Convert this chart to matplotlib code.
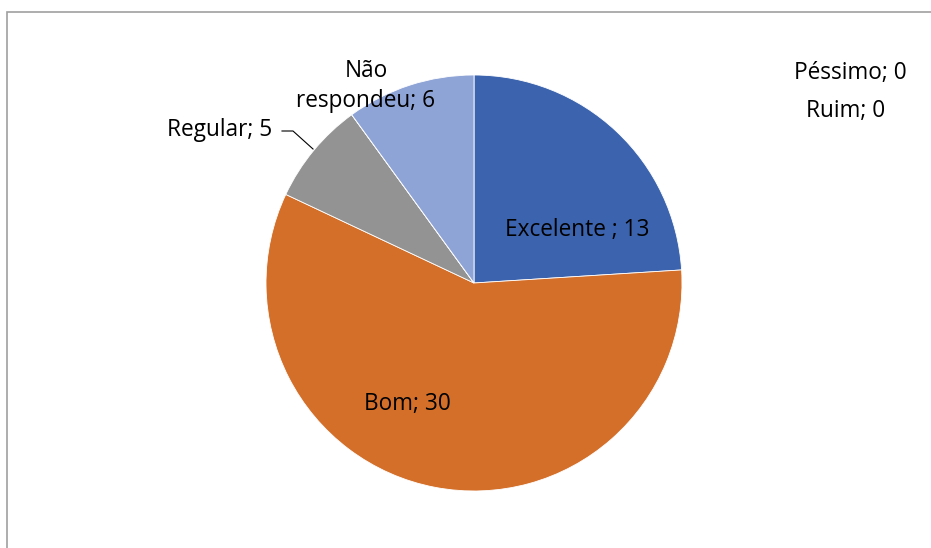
import matplotlib.pyplot as plt
import matplotlib.patches as mpatches

plt.rcParams['font.family'] = ['Open Sans', 'DejaVu Sans']

categorias = ["Excelente ", "Bom", "Regular", "Ruim", "Péssimo", "Não respondeu"]
# valores mostrados nos rótulos
valores = [13, 30, 5, 0, 0, 6]
# percentuais usados no tamanho das fatias (lidos dos ângulos)
percentuais = [24, 58, 8, 0, 0, 10]
cores = ["#3C64AE", "#D46F2A", "#939393", "#F2B800", "#4F8ACB", "#8FA4D6"]

W, H = 931, 548
fig = plt.figure(figsize=(W / 100, H / 100), dpi=100)
ax = fig.add_axes([0, 0, 1, 1])

centro = (474, H - 283)
raio = 208
ax.pie(percentuais, colors=cores, startangle=90, counterclock=False,
       center=centro, radius=raio, frame=True,
       wedgeprops=dict(edgecolor="white", linewidth=0.6))
ax.set_xlim(0, W)
ax.set_ylim(0, H)
ax.set_aspect("equal")
ax.axis("off")

# borda do gráfico (cortada à direita e embaixo)
borda = mpatches.Rectangle((7, -20), W + 20, H - 12 + 20, fill=False,
                           edgecolor="#A0A0A0", linewidth=1.2)
ax.add_patch(borda)

fs = 16.3
rot = [f"{c}; {v}" for c, v in zip(categorias, valores)]
ax.text(577, H - 230, rot[0], ha="center", va="center", fontsize=fs)
ax.text(407, H - 404, rot[1], ha="center", va="center", fontsize=fs)
ax.text(220, H - 130, rot[2], ha="center", va="center", fontsize=fs)
ax.text(846, H - 111, rot[3], ha="center", va="center", fontsize=fs)
ax.text(850, H - 73, rot[4], ha="center", va="center", fontsize=fs)
ax.text(366, H - 86, "Não\nrespondeu; 6", ha="center", va="center",
        fontsize=fs, linespacing=1.3)

# linha guia do rótulo "Regular"
ax.plot([282, 293, 313], [H - 131, H - 131, H - 149], color="black", lw=0.8)

fig.savefig("out.png", dpi=100)
